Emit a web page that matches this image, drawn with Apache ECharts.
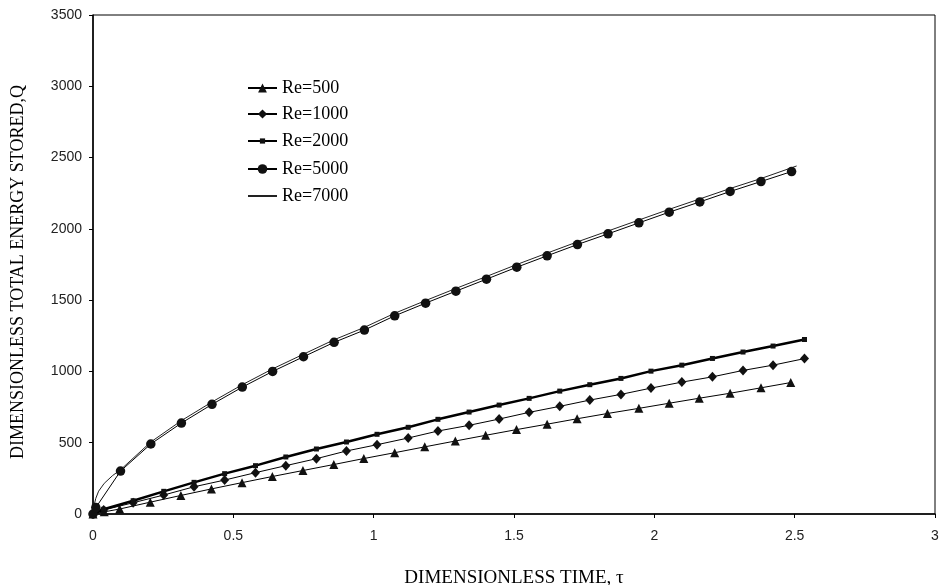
<!DOCTYPE html>
<html>
<head>
<meta charset="utf-8">
<script src="https://cdn.jsdelivr.net/npm/echarts@6/dist/echarts.min.js"></script>
<style>
html,body{margin:0;padding:0;background:#fff;}
#chart{width:939px;height:585px;}
</style>
</head>
<body>
<div id="chart"></div>
<script>
// ---- data ----
var xTicks = [0, 0.5, 1, 1.5, 2, 2.5, 3];
var yTicks = [0, 500, 1000, 1500, 2000, 2500, 3000, 3500];

var seriesNames = ["Re=500", "Re=1000", "Re=2000", "Re=5000", "Re=7000"];

var tau500 = [0, 0.04, 0.095, 0.204, 0.313, 0.422, 0.531, 0.639, 0.748, 0.858, 0.965, 1.075, 1.182, 1.291, 1.399, 1.509, 1.618, 1.725, 1.833, 1.945, 2.053, 2.160, 2.270, 2.380, 2.486];
var q500   = [0, 15, 35, 83, 130, 176, 220, 263, 305, 347, 389, 430, 471, 512, 552, 592, 630, 668, 705, 741, 777, 812, 847, 885, 922];

var tau1000 = [0, 0.038, 0.143, 0.252, 0.360, 0.469, 0.579, 0.687, 0.796, 0.903, 1.012, 1.123, 1.229, 1.340, 1.447, 1.554, 1.663, 1.770, 1.881, 1.988, 2.098, 2.207, 2.316, 2.423, 2.535];
var q1000   = [0, 28, 79, 133, 191, 238, 290, 339, 388, 442, 486, 533, 582, 622, 666, 713, 755, 799, 839, 883, 925, 962, 1007, 1044, 1090];

var tau2000 = [0, 0.038, 0.143, 0.252, 0.360, 0.469, 0.579, 0.687, 0.796, 0.903, 1.012, 1.123, 1.229, 1.340, 1.447, 1.554, 1.663, 1.770, 1.881, 1.988, 2.098, 2.207, 2.316, 2.423, 2.535];
var q2000   = [0, 33, 93, 159, 222, 283, 339, 400, 456, 505, 559, 608, 664, 715, 764, 811, 862, 907, 951, 1002, 1044, 1091, 1136, 1178, 1224];

var tau5000 = [0, 0.01, 0.098, 0.206, 0.315, 0.424, 0.532, 0.640, 0.750, 0.859, 0.967, 1.075, 1.185, 1.293, 1.402, 1.510, 1.618, 1.726, 1.835, 1.945, 2.053, 2.162, 2.270, 2.380, 2.489];
var q5000   = [0, 45, 301, 491, 638, 769, 890, 1000, 1103, 1204, 1290, 1390, 1479, 1563, 1647, 1731, 1811, 1890, 1965, 2042, 2117, 2189, 2262, 2332, 2402];

var tau7000 = [0, 0.005, 0.01, 0.02, 0.04, 0.07, 0.098, 0.206, 0.315, 0.424, 0.532, 0.640, 0.750, 0.859, 0.967, 1.075, 1.185, 1.293, 1.402, 1.510, 1.618, 1.726, 1.835, 1.945, 2.053, 2.162, 2.270, 2.380, 2.507];
var q7000   = [0, 70, 110, 160, 215, 270, 310, 505, 655, 786, 907, 1018, 1121, 1222, 1309, 1408, 1497, 1582, 1666, 1750, 1830, 1909, 1985, 2062, 2137, 2210, 2283, 2353, 2441];

function pairs(xs, ys) {
  var out = [];
  for (var i = 0; i < xs.length; i++) out.push([xs[i], ys[i]]);
  return out;
}

var chart = echarts.init(document.getElementById('chart'), null, {renderer: 'canvas'});
var sans = '"Liberation Sans", Arial, sans-serif';
var serif = '"Liberation Serif", "Times New Roman", serif';

// one legend row per series so each marker keeps its own size
var legendRowCenters = [88, 114, 141, 169, 196];
var legendIconHeights = [11, 11.5, 6.5, 12, 0.5];
var legends = seriesNames.map(function (name, i) {
  var lg = {
    orient: 'vertical',
    left: 247, top: legendRowCenters[i] - 9,
    padding: 0,
    itemWidth: 29, itemHeight: legendIconHeights[i], itemGap: 0,
    data: [name],
    textStyle: {fontFamily: serif, fontSize: 18, color: '#000', lineHeight: 18}
  };
  if (i === 4) lg.itemStyle = {opacity: 0};
  return lg;
});

var option = {
  animation: false,
  backgroundColor: '#fff',
  grid: {
    left: 93, right: 4, top: 15, bottom: 71,
    containLabel: false,
    outerBoundsMode: 'none',
    show: true, borderColor: '#000', borderWidth: 1
  },
  legend: legends,
  xAxis: {
    type: 'value', min: xTicks[0], max: xTicks[xTicks.length - 1], interval: 0.5,
    axisLine: {show: true, onZero: false, lineStyle: {color: '#000', width: 1.5}},
    axisTick: {show: true, inside: false, length: 4, lineStyle: {color: '#000'}},
    axisLabel: {fontFamily: sans, fontSize: 14, color: '#222', margin: 15,
                formatter: function (v) { return String(v); }},
    splitLine: {show: false}
  },
  yAxis: {
    type: 'value', min: yTicks[0], max: yTicks[yTicks.length - 1], interval: 500,
    axisLine: {show: true, onZero: false, lineStyle: {color: '#000', width: 1.5}},
    axisTick: {show: true, inside: false, length: 4, lineStyle: {color: '#000'}},
    axisLabel: {fontFamily: sans, fontSize: 14, color: '#222', margin: 11,
                formatter: function (v) { return String(v); }},
    splitLine: {show: false}
  },
  graphic: [
    {type: 'text', x: 18, y: 272, rotation: Math.PI / 2,
     style: {text: 'DIMENSIONLESS TOTAL ENERGY STORED,Q', font: '18px ' + serif, fill: '#000', textAlign: 'center', textVerticalAlign: 'middle'}},
    {type: 'text', x: 514, y: 578,
     style: {text: 'DIMENSIONLESS TIME, \u03c4', font: '19px ' + serif, fill: '#000', textAlign: 'center', textVerticalAlign: 'middle'}}
  ],
  series: [
    {name: seriesNames[0], type: 'line', data: pairs(tau500, q500),
     symbol: 'triangle', symbolSize: 9, showAllSymbol: true,
     lineStyle: {color: '#000', width: 1}, itemStyle: {color: '#111'}, z: 2},
    {name: seriesNames[1], type: 'line', data: pairs(tau1000, q1000),
     symbol: 'diamond', symbolSize: [9, 10], showAllSymbol: true,
     lineStyle: {color: '#000', width: 1}, itemStyle: {color: '#111'}, z: 2},
    {name: seriesNames[2], type: 'line', data: pairs(tau2000, q2000),
     symbol: 'rect', symbolSize: 5, showAllSymbol: true,
     lineStyle: {color: '#000', width: 2.5}, itemStyle: {color: '#111'}, z: 3},
    {name: seriesNames[3], type: 'line', data: pairs(tau5000, q5000),
     symbol: 'circle', symbolSize: 9.5, showAllSymbol: true,
     lineStyle: {color: '#000', width: 1}, itemStyle: {color: '#111'}, z: 3},
    {name: seriesNames[4], type: 'line', data: pairs(tau7000, q7000),
     symbol: 'none', showSymbol: false,
     lineStyle: {color: '#222', width: 1}, itemStyle: {color: '#222'}, z: 2}
  ]
};
chart.setOption(option);
</script>
</body>
</html>
